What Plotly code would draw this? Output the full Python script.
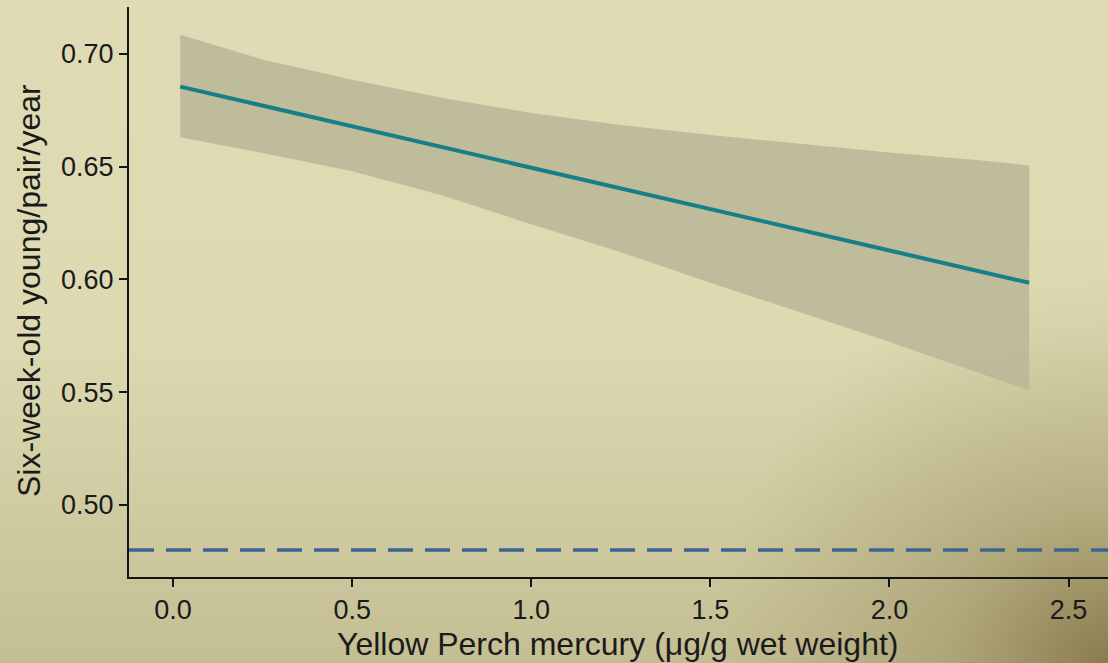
import base64
import plotly.graph_objects as go

# ---- data ----
mercury = [0.02, 0.25, 0.5, 0.75, 1.0, 1.25, 1.5, 1.75, 2.0, 2.25, 2.39]
fit = [0.6855, 0.6771, 0.6679, 0.6587, 0.6495, 0.6404, 0.6312, 0.6220, 0.6128, 0.6036, 0.5985]
upper = [0.7085, 0.6975, 0.6885, 0.6805, 0.6738, 0.6685, 0.6640, 0.6600, 0.6563, 0.6528, 0.6505]
lower = [0.6630, 0.6560, 0.6480, 0.6373, 0.6245, 0.6120, 0.5985, 0.5855, 0.5722, 0.5585, 0.5508]
reference_level = 0.48
x_ticks = [0.0, 0.5, 1.0, 1.5, 2.0, 2.5]
x_ticklabels = ["0.0", "0.5", "1.0", "1.5", "2.0", "2.5"]
y_ticks = [0.50, 0.55, 0.60, 0.65, 0.70]
y_ticklabels = ["0.50", "0.55", "0.60", "0.65", "0.70"]
x_title = "Yellow Perch mercury (\u03bcg/g wet weight)"
y_title = "Six-week-old young/pair/year"

W, H = 1108, 663
ML, MR, MT, MB = 129, 0, 7, 86
PW, PH = W - ML - MR, H - MT - MB

svg = f'''<svg xmlns="http://www.w3.org/2000/svg" width="{W}" height="{H}" viewBox="0 0 {W} {H}" preserveAspectRatio="none">
<defs>
<linearGradient id="v" x1="0" y1="0" x2="0" y2="1">
<stop offset="0" stop-color="#dfdbb4"/>
<stop offset="0.5" stop-color="#dddab2"/>
<stop offset="1" stop-color="#c4be93"/>
</linearGradient>
<radialGradient id="r" cx="{W}" cy="{H}" r="400" gradientUnits="userSpaceOnUse">
<stop offset="0" stop-color="#6a5828" stop-opacity="0.65"/>
<stop offset="0.4" stop-color="#7a6a38" stop-opacity="0.3"/>
<stop offset="1" stop-color="#8a7a48" stop-opacity="0"/>
</radialGradient>
</defs>
<rect width="{W}" height="{H}" fill="url(#v)"/>
<rect width="{W}" height="{H}" fill="url(#r)"/>
</svg>'''
bg_src = "data:image/svg+xml;base64," + base64.b64encode(svg.encode()).decode()

fig = go.Figure()

fig.add_trace(go.Scatter(x=mercury, y=upper, mode="lines", line=dict(width=0),
                         hoverinfo="skip", showlegend=False))
fig.add_trace(go.Scatter(x=mercury, y=lower, mode="lines", line=dict(width=0),
                         fill="tonexty", fillcolor="rgba(186,182,152,0.85)",
                         hoverinfo="skip", showlegend=False))
fig.add_trace(go.Scatter(x=mercury, y=fit, mode="lines",
                         line=dict(color="#177f88", width=4), showlegend=False))

fig.add_hline(y=reference_level, line=dict(color="#3d6593", width=3.5, dash="25px,12px"))

axis_font = dict(family="Liberation Sans, Arial, sans-serif", size=27, color="#1a1a1a")

fig.update_xaxes(range=[-0.123, 2.61], tickvals=x_ticks, ticktext=x_ticklabels,
                 showgrid=False, zeroline=False, showline=True, linecolor="#141414",
                 linewidth=2, ticks="outside", ticklen=8, tickwidth=2, tickcolor="#141414",
                 tickfont=axis_font)
fig.update_yaxes(range=[0.468, 0.7208], tickvals=y_ticks, ticktext=y_ticklabels,
                 showgrid=False, zeroline=False, showline=True, linecolor="#141414",
                 linewidth=2, ticks="outside", ticklen=8, tickwidth=2, tickcolor="#141414",
                 tickfont=axis_font)

title_font = dict(family="Liberation Sans, Arial, sans-serif", size=32, color="#1a1a1a")
fig.add_annotation(text=x_title, xref="paper", yref="paper",
                   x=(617 - ML) / PW, y=-(644 - MT - PH) / PH,
                   yanchor="middle", xanchor="center", showarrow=False, font=title_font,
                   borderpad=0)
fig.add_annotation(text=y_title, xref="paper", yref="paper",
                   x=-(ML - 29) / PW, y=(MT + PH - 291) / PH,
                   xanchor="center", yanchor="middle", textangle=-90,
                   showarrow=False, font=title_font, borderpad=0)

fig.add_layout_image(source=bg_src, xref="paper", yref="paper",
                     x=-ML / PW, y=1 + MT / PH, sizex=W / PW, sizey=H / PH,
                     xanchor="left", yanchor="top", sizing="stretch", layer="below")

fig.update_layout(width=W, height=H, margin=dict(l=ML, r=MR, t=MT, b=MB),
                  paper_bgcolor="#dedab3", plot_bgcolor="rgba(0,0,0,0)",
                  showlegend=False)

fig.write_html("out.html", config={"displayModeBar": False},
               post_script="document.body.style.margin='0';document.body.style.overflow='hidden';")
